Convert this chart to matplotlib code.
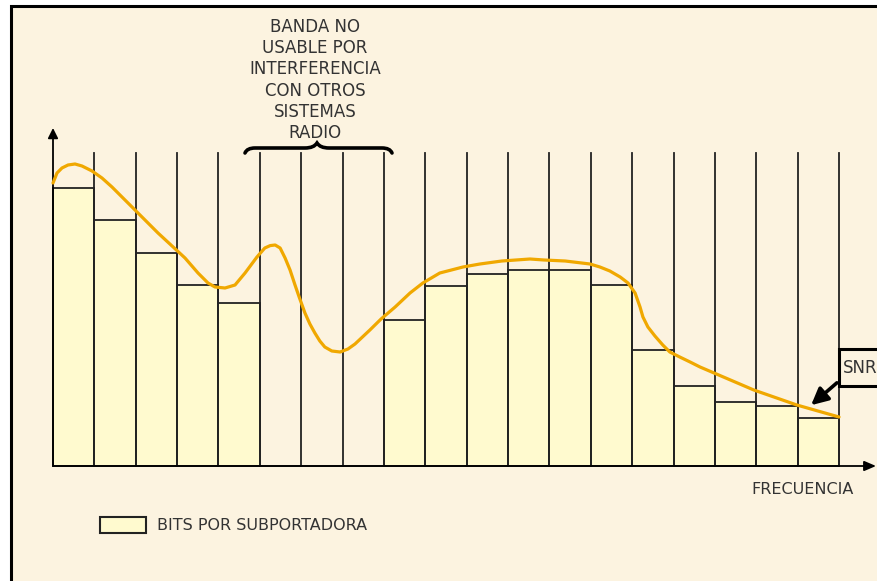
import matplotlib.pyplot as plt
import matplotlib.patches as mpatches
from matplotlib.path import Path
import numpy as np

# bits per subcarrier (19 subcarriers, 6-8 unused because of interference)
bits = [13.9, 12.3, 10.65, 9.05, 8.15, 0, 0, 0, 7.3, 9.0, 9.6, 9.8, 9.8,
        9.05, 5.8, 4.0, 3.2, 3.0, 2.4]

# SNR curve (x in subcarrier widths)
snr_x = [0.000, 0.097, 0.217, 0.363, 0.532, 0.701, 0.943, 1.184, 1.426,
         1.668, 1.910, 2.224, 2.538, 2.852, 3.191, 3.505, 3.747, 3.916,
         4.158, 4.400, 4.642, 4.93, 5.12, 5.25, 5.37, 5.49, 5.61, 5.73,
         5.85, 5.95, 6.09, 6.21, 6.33, 6.45, 6.57, 6.74, 6.94, 7.13, 7.30,
         7.66, 7.93, 8.27, 8.63, 8.94, 9.35, 9.91, 10.32, 10.85, 11.53,
         11.87, 12.38, 12.98, 13.22, 13.46, 13.71, 13.90, 14.07, 14.19,
         14.26, 14.38, 14.55, 14.74, 14.91, 15.15, 15.40, 15.64, 16.94,
         17.98, 19.00]
snr_y = [14.15, 14.65, 14.9, 15.05, 15.1, 15.0, 14.75, 14.4, 13.95, 13.45,
         12.95, 12.3, 11.65, 11.05, 10.4, 9.65, 9.15, 8.95, 8.9, 9.05, 9.65,
         10.45, 10.9, 11.02, 11.05, 10.9, 10.4, 9.8, 9.05, 8.45, 7.65, 7.1,
         6.65, 6.25, 5.95, 5.75, 5.7, 5.85, 6.1, 6.8, 7.35, 7.95, 8.65, 9.15,
         9.65, 9.95, 10.1, 10.25, 10.35, 10.3, 10.25, 10.1, 9.95, 9.75, 9.45,
         9.15, 8.65, 7.95, 7.45, 6.95, 6.5, 6.05, 5.7, 5.45, 5.2, 4.95, 3.8,
         3.05, 2.45]

W, H = 877, 581
BG = '#fcf3e0'
BAR = '#fffacf'
ORANGE = '#f0a800'
INK = '#333333'
plt.rcParams['font.family'] = ['Liberation Sans Narrow', 'DejaVu Sans']

fig = plt.figure(figsize=(W / 100, H / 100), dpi=100)
fig.patch.set_facecolor('white')


def fx(px):
    return px / W


def fy(py):
    return 1 - py / H


# cream panel with black border on left/top
fig.patches.append(mpatches.Rectangle((fx(11), -0.05), 1.0, fy(6) + 0.05, transform=fig.transFigure,
                                      facecolor=BG, edgecolor='black', linewidth=2.2, zorder=-10))

# axes mapped so one subcarrier = 41.37 px, baseline at y=466 px, 20 px per unit
sc = 41.37
ax = fig.add_axes([0, 0, 1, 1])
ax.set_zorder(1)
ax.patch.set_alpha(0)
ax.set_xlim(-53 / sc, (W - 53) / sc)
ax.set_ylim(-(H - 466) / 20, 466 / 20)
ax.axis('off')

n = len(bits)
idx = np.arange(n)
ax.bar(idx, bits, width=1.0, align='edge', color=BAR, edgecolor='#222222', linewidth=1.3, zorder=2)

# vertical subcarrier separators
for i in range(1, n + 1):
    ax.plot([i, i], [0, (466 - 153) / 20], color='#222222', lw=1.3, zorder=3)

# axes with arrows
ax.annotate('', xy=(0, (466 - 128) / 20), xytext=(0, 0),
            arrowprops=dict(arrowstyle='-|>,head_length=0.6,head_width=0.3', color='black', lw=1.3,
                            shrinkA=0, shrinkB=0),
            zorder=4)
ax.annotate('', xy=((876 - 53) / sc, 0), xytext=(0, 0),
            arrowprops=dict(arrowstyle='-|>,head_length=0.7,head_width=0.3', color='black', lw=1.3,
                            shrinkA=0, shrinkB=0),
            zorder=4)

ax.plot(snr_x, snr_y, color=ORANGE, lw=2.3, solid_joinstyle='round', solid_capstyle='round', zorder=5)

# interference annotation and brace
fig.text(fx(315), fy(80), 'BANDA NO\nUSABLE POR\nINTERFERENCIA\nCON OTROS\nSISTEMAS\nRADIO',
         ha='center', va='center', fontsize=12, color=INK, linespacing=1.22)
x0, x1, xm, yb, yt = 245, 392, 317, 152, 147
verts = [(x0, yb + 1), (x0 + 2, yt + 1), (x0 + 10, yt + 1), (x0 + 25, yt + 1),
         (xm - 12, yt + 1), (xm - 3, yt + 1), (xm, yt - 4),
         (xm + 3, yt + 1), (xm + 12, yt + 1), (x1 - 25, yt + 1),
         (x1 - 10, yt + 1), (x1 - 2, yt + 1), (x1, yb + 1)]
codes = [Path.MOVETO] + [Path.CURVE3, Path.CURVE3] * 6
brace = Path([(fx(a), fy(b)) for a, b in verts], codes)
fig.patches.append(mpatches.PathPatch(brace, transform=fig.transFigure, fill=False,
                                      edgecolor='black', lw=2.6, capstyle='round', zorder=2))

# SNR label box and arrow
fig.patches.append(mpatches.Rectangle((fx(839), fy(386)), 0.2, (386 - 349) / H,
                                      transform=fig.transFigure, facecolor=BG,
                                      edgecolor='black', linewidth=2.2, zorder=6))
fig.text(fx(843), fy(368), 'SNR', ha='left', va='center', fontsize=12, color=INK, zorder=7)
fig.patches.append(mpatches.FancyArrowPatch((fx(839), fy(381)), (fx(809), fy(407)),
                                            transform=fig.transFigure,
                                            arrowstyle='-|>,head_length=10,head_width=5',
                                            color='black', lw=2.6, zorder=7))

fig.text(fx(803), fy(489), 'FRECUENCIA', ha='center', va='center', fontsize=11.5, color=INK)

# legend
fig.patches.append(mpatches.Rectangle((fx(100), fy(533)), 46 / W, 16 / H,
                                      transform=fig.transFigure, facecolor=BAR,
                                      edgecolor='#222222', linewidth=1.5))
fig.text(fx(157), fy(526), 'BITS POR SUBPORTADORA', ha='left', va='center', fontsize=11.5, color=INK)

fig.savefig('out.png', dpi=100, facecolor=fig.get_facecolor())
